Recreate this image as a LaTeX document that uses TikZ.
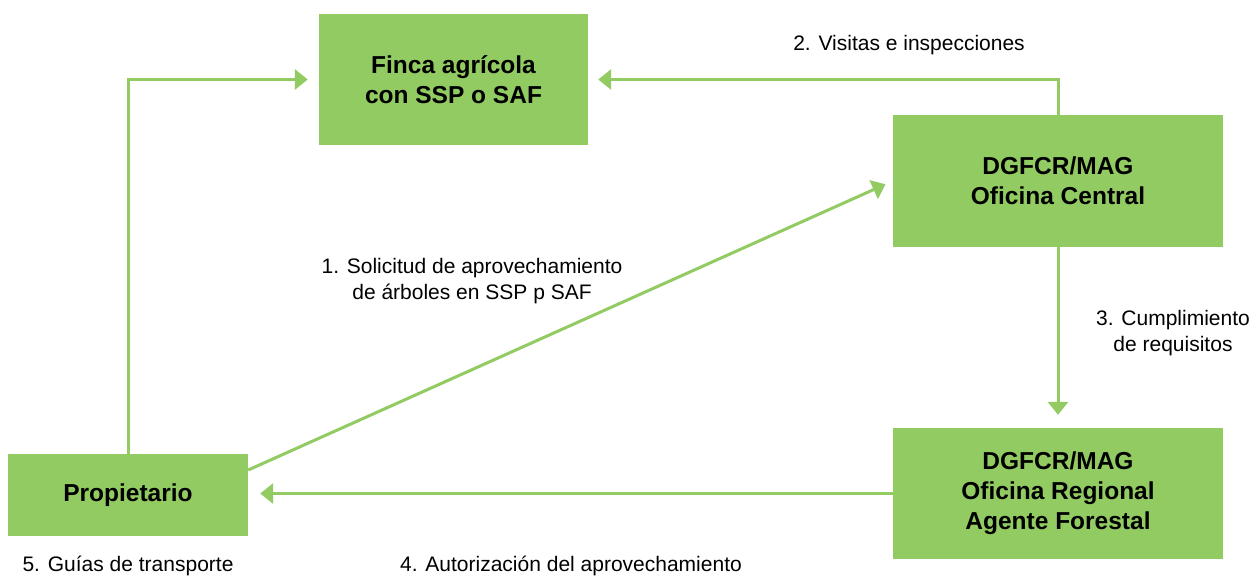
\documentclass[tikz,border=0pt]{standalone}
\usepackage{fontspec}
\setmainfont{Liberation Sans}
\usetikzlibrary{arrows.meta}
\definecolor{lgreen}{RGB}{146,203,98}
\begin{document}
\begin{tikzpicture}[x=1pt,y=-1pt,
  box/.style={draw=none,fill=lgreen,inner sep=0pt,align=center,
    font=\fontsize{24.5}{30}\selectfont\bfseries},
  lbl/.style={align=center,inner sep=0pt,font=\fontsize{21}{26}\selectfont},
  conn/.style={draw=lgreen,line width=3pt,-{Triangle[length=13pt,width=20pt]}}]
\useasboundingbox (0,0) rectangle (1252,576);
\node[box,minimum width=269pt,minimum height=131pt] (finca) at (453.5,79.5) {Finca agrícola\\con SSP o SAF};
\node[box,minimum width=330pt,minimum height=132pt] (central) at (1058,181) {DGFCR/MAG\\Oficina Central};
\node[box,minimum width=330pt,minimum height=131pt] (regional) at (1058,493.5) {DGFCR/MAG\\Oficina Regional\\Agente Forestal};
\node[box,minimum width=240pt,minimum height=82pt] (prop) at (128,495) {Propietario};

\draw[conn,shorten >=11pt] (prop.north) |- (finca.west);
\draw[conn,shorten >=10pt] (central.north) |- (finca.east);
\draw[conn,shorten >=13pt] (central.south) -- (regional.north);
\draw[conn,shorten >=12pt] (regional.west) -- (regional.west -| prop.east);
\draw[conn,shorten >=8pt] ([yshift=25pt]prop.east) -- (central.west);

\node[lbl] (l2) at (909,45) {2. Visitas e inspecciones};
\node[lbl] (l1) at (472,281) {1. Solicitud de aprovechamiento\\de árboles en SSP p SAF};
\node[lbl] (l3) at (1173,333) {3. Cumplimiento\\de requisitos};
\node[lbl] (l5) at (128,566) {5. Guías de transporte};
\node[lbl] (l4) at (571,566) {4. Autorización del aprovechamiento};
\end{tikzpicture}
\end{document}
